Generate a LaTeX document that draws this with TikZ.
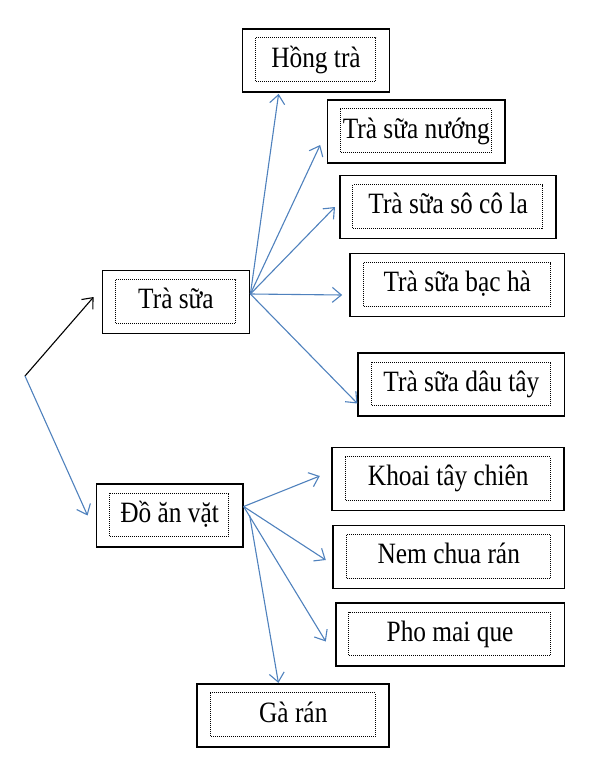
\documentclass[tikz,border=0pt]{standalone}
\usepackage{fontspec}
\setmainfont[FakeStretch=0.86]{Liberation Serif}
\usetikzlibrary{arrows.meta}
\definecolor{linkblue}{RGB}{79,129,189}

\begin{document}
\begin{tikzpicture}[x=1pt, y=-1pt, >={Straight Barb[length=9pt,width=15pt]}]
        \tikzstyle{every node}=[draw, line width=1.8pt, minimum height=63pt,
            font=\fontsize{29.5}{30}\selectfont, text height=20pt, text depth=6.6pt,
            path picture={\draw[densely dotted, line width=1pt]
                ([shift={(13pt,-9pt)}]path picture bounding box.north west) rectangle
                ([shift={(-14pt,10.5pt)}]path picture bounding box.south east);}]

        \useasboundingbox (0,0) rectangle (590,757);

        \node (hong)    [minimum width=147pt]   at (316,60.5)    {Hồng trà};
        \node (nuong)   [minimum width=177.7pt] at (416.3,131.5) {Trà sữa nướng};
        \node (socola)  [minimum width=216.4pt] at (448.1,207)   {Trà sữa sô cô la};
        \node (trasua)  [minimum width=147pt]   at (176,302)     {Trà sữa};
        \node (bacha)   [minimum width=214.5pt] at (457.3,285)   {Trà sữa bạc hà};
        \node (dautay)  [minimum width=206.2pt] at (461.4,384.5) {Trà sữa dâu tây};
        \node (khoai)   [minimum width=232pt]   at (448.3,479)   {Khoai tây chiên};
        \node (doanvat) [minimum width=146.3pt] at (169.6,515.5) {Đồ ăn vặt};
        \node (nem)     [minimum width=231.4pt] at (448.8,557)   {Nem chua rán};
        \node (phomai)  [minimum width=228.8pt] at (450.1,634.5) {Pho mai que};
        \node (garan)   [minimum width=192pt]   at (293.3,715.3) {Gà rán};

        \coordinate (root) at (25,376);

        \path[->, line width=1.1pt] (root) edge ([xshift=-8pt,yshift=5pt]trasua.west);

        \path[->, linkblue, line width=1.1pt]
            (root) edge ([xshift=-8pt]doanvat.west)
            ([yshift=8pt]trasua.east) edge ([xshift=37pt,yshift=-1pt]hong.south west)
            ([yshift=8pt]trasua.east) edge ([xshift=-6.4pt,yshift=-13.5pt]nuong.west)
            ([yshift=8pt]trasua.east) edge ([xshift=-4pt]socola.west)
            ([yshift=8pt]trasua.east) edge ([xshift=-7pt,yshift=-10pt]bacha.west)
            ([yshift=8pt]trasua.east) edge ([yshift=-19pt]dautay.west)
            ([yshift=9pt]doanvat.east) edge ([xshift=-11.6pt,yshift=3pt]khoai.west)
            ([yshift=9pt]doanvat.east) edge ([xshift=-6.4pt,yshift=-3pt]nem.west)
            ([yshift=9pt]doanvat.east) edge ([xshift=-9pt,yshift=-7pt]phomai.west)
            ([xshift=6pt]doanvat.east) edge ([xshift=82pt]garan.north west);

\end{tikzpicture}
\end{document}
